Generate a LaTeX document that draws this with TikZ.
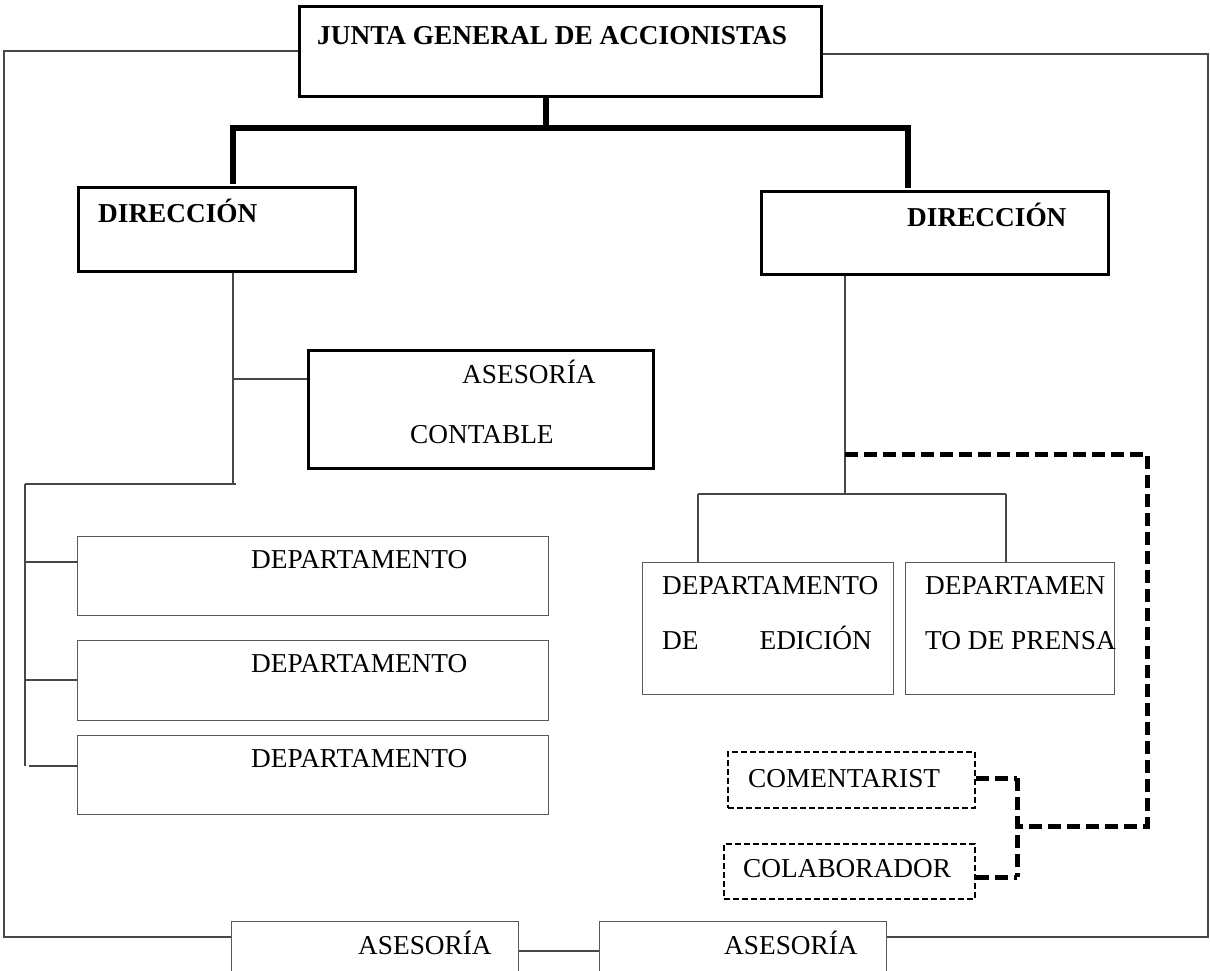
\documentclass[tikz,border=0pt]{standalone}
\usepackage{fontspec}
\setmainfont{Liberation Serif}
\begin{document}
\begin{tikzpicture}[x=1pt,y=-1pt,
  thinline/.style={line width=1.3pt,draw=black!72},
  boldbox/.style={draw=black,line width=2.6pt,fill=white,inner sep=0pt,anchor=north west},
  plainbox/.style={draw=black!65,line width=1.4pt,fill=white,inner sep=0pt,anchor=north west},
  dashbox/.style={draw=black,line width=2.2pt,dash pattern=on 6pt off 3pt,fill=white,inner sep=0pt,anchor=north west},
  heavy/.style={line width=5.8pt,draw=black},
  heavydash/.style={line width=5pt,draw=black,dash pattern=on 13pt off 6pt},
  txt/.style={inner sep=0pt,font=\fontsize{27.3}{30}\selectfont},
  btxt/.style={inner sep=0pt,font=\fontsize{27.3}{30}\selectfont\bfseries}]
\path[use as bounding box,clip] (0,0) rectangle (1210,971);
\fill[white] (0,0) rectangle (1210,971);

% junction coordinates
\coordinate (fL1) at (298,51);
\coordinate (fL2) at (4,51);
\coordinate (fL3) at (4,937);
\coordinate (fL4) at (231,937);
\coordinate (fR1) at (820,54);
\coordinate (fR2) at (1208,54);
\coordinate (fR3) at (1208,937);
\coordinate (fR4) at (886,937);
\coordinate (jtop) at (546,128);
\coordinate (busL) at (233,128);
\coordinate (busR) at (908,128);
\coordinate (dLtop) at (233,184);
\coordinate (dRtop) at (908,188);
\coordinate (lA) at (233,270);
\coordinate (lB) at (233,379);
\coordinate (lC) at (233,484);
\coordinate (lD) at (236,484);
\coordinate (lE) at (25,484);
\coordinate (lF) at (25,766);
\coordinate (lG) at (25,562);
\coordinate (lH) at (25,680);
\coordinate (lI) at (29,766);
\coordinate (rA) at (845,273);
\coordinate (rB) at (845,494);
\coordinate (rC) at (698,494);
\coordinate (rD) at (1006,494);
\coordinate (rE) at (698,562);
\coordinate (rF) at (1006,562);
\coordinate (dA) at (845,454);
\coordinate (dB) at (1147,454);
\coordinate (dC) at (1147,826);
\coordinate (dD) at (1017,826);
\coordinate (dE) at (1017,778);
\coordinate (dF) at (1017,877);

% frame lines
\draw[thinline] (fL1) -- (fL2) -- (fL3) -- (fL4);
\draw[thinline] (fR1) -- (fR2) -- (fR3) -- (fR4);

% boxes
\node[boldbox,minimum width=522pt,minimum height=90pt] (junta) at (298,5) {};
\node[boldbox,minimum width=277pt,minimum height=84pt] (dirL) at (77,186) {};
\node[boldbox,minimum width=347pt,minimum height=83pt] (dirR) at (760,190) {};
\node[boldbox,minimum width=345pt,minimum height=118pt] (asc) at (307,349) {};
\node[plainbox,minimum width=471pt,minimum height=79pt] (dep1) at (77,536) {};
\node[plainbox,minimum width=471pt,minimum height=80pt] (dep2) at (77,640) {};
\node[plainbox,minimum width=471pt,minimum height=79pt] (dep3) at (77,735) {};
\node[plainbox,minimum width=251pt,minimum height=132pt] (depE) at (642,562) {};
\node[plainbox,minimum width=209pt,minimum height=132pt] (depP) at (905,562) {};
\node[dashbox,minimum width=247pt,minimum height=56pt] (com) at (727,751) {};
\node[dashbox,minimum width=251pt,minimum height=55pt] (col) at (723,843) {};
\node[plainbox,minimum width=287pt,minimum height=80pt] (as1) at (231,921) {};
\node[plainbox,minimum width=287pt,minimum height=80pt] (as2) at (599,921) {};

% texts
\node[btxt,anchor=base west] (tjunta) at (317,45) {JUNTA GENERAL DE ACCIONISTAS};
\node[btxt,anchor=base west] (tdirL) at (98,222) {DIRECCIÓN};
\node[btxt,anchor=base west] (tdirR) at (907,226) {DIRECCIÓN};
\node[txt,anchor=base west] (tasc1) at (462,383) {ASESORÍA};
\node[txt,anchor=base west] (tasc2) at (410,443) {CONTABLE};
\node[txt,anchor=base west] (tdep1) at (251,568) {DEPARTAMENTO};
\node[txt,anchor=base west] (tdep2) at (251,672) {DEPARTAMENTO};
\node[txt,anchor=base west] (tdep3) at (251,767) {DEPARTAMENTO};
\node[txt,anchor=base west] (tdepE1) at (662,594) {DEPARTAMENTO};
\node[txt,anchor=base west] (tdepE2) at (662,649) {DE};
\node[txt,anchor=base east] (tdepE3) at (872,649) {EDICIÓN};
\node[txt,anchor=base west] (tdepP1) at (925,594) {DEPARTAMEN};
\node[txt,anchor=base west] (tdepP2) at (925,649) {TO DE PRENSA};
\node[txt,anchor=base west] (tcom) at (748,787) {COMENTARIST};
\node[txt,anchor=base west] (tcol) at (743,877) {COLABORADOR};
\node[txt,anchor=base west] (tas1) at (358,954) {ASESORÍA};
\node[txt,anchor=base west] (tas2) at (724,954) {ASESORÍA};

% heavy connector
\draw[heavy] (junta.south -| jtop) -- (jtop);
\draw[heavy] (dLtop) -- (busL) -- (busR) -- (dRtop);

% left tree
\draw[thinline] (dirL.south -| lA) -- (lC);
\draw[thinline] (lB) -- (asc.west |- lB);
\draw[thinline] (lE) -- (lD);
\draw[thinline] (lE) -- (lF);
\draw[thinline] (lG) -- (dep1.west |- lG);
\draw[thinline] (lH) -- (dep2.west |- lH);
\draw[thinline] (lI) -- (dep3.west |- lI);

% right tree
\draw[thinline] (dirR.south -| rA) -- (rB);
\draw[thinline] (rC) -- (rD);
\draw[thinline] (rC) -- (depE.north -| rE);
\draw[thinline] (rD) -- (rF);

% dashed links
\draw[heavydash] (dA) -- (dB) -- (dC) -- (dD);
\draw[heavydash] (dE) -- (dF);
\draw[heavydash] (com.east |- dE) -- (dE);
\draw[heavydash] (col.east |- dF) -- (dF);

% bottom link
\draw[thinline] (as1.east |- 0,951) -- (as2.west |- 0,951);
\end{tikzpicture}
\end{document}
